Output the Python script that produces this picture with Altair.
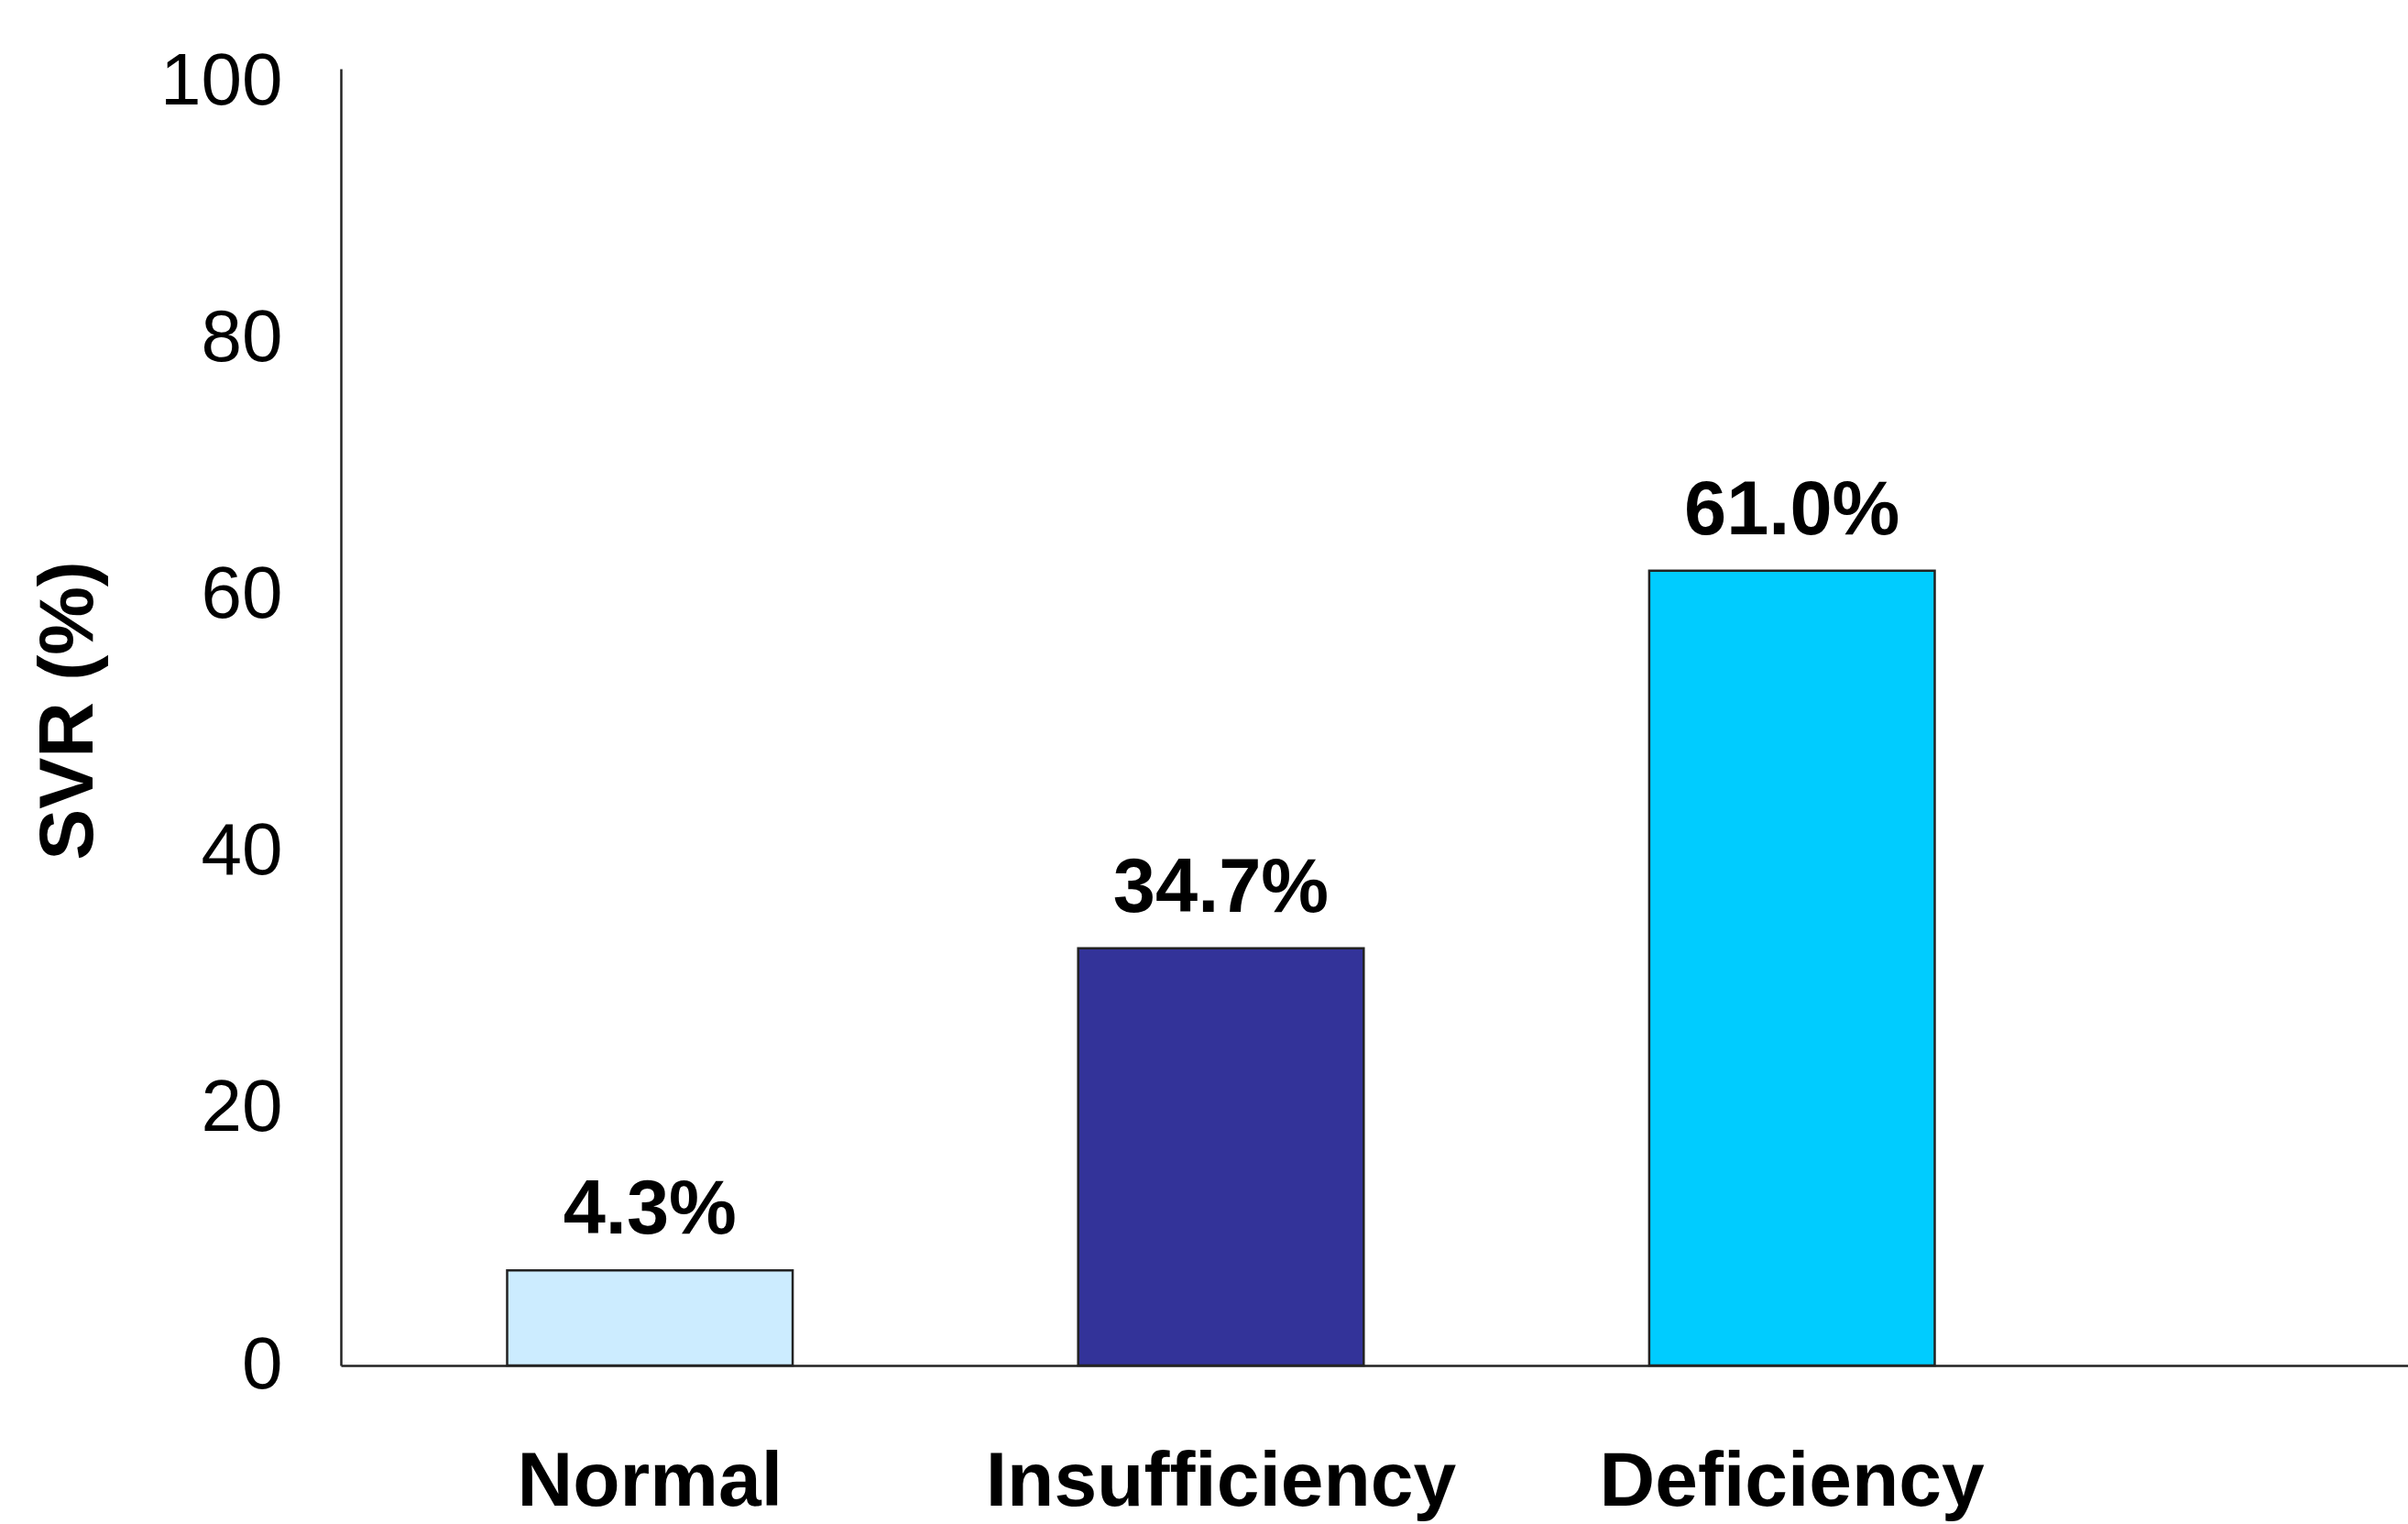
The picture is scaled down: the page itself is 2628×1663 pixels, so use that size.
import altair as alt
import pandas as pd

categories = ["Normal", "Insufficiency", "Deficiency"]
bar_values = [7.4, 32.5, 61.9]
label_texts = ["4.3%", "34.7%", "61.0%"]
bar_colors = ["#CCECFF", "#333399", "#00CCFF"]
y_ticks = [0, 20, 40, 60, 80, 100]

df = pd.DataFrame({"cat": categories, "val": bar_values, "lbl": label_texts})

FONT = "Liberation Sans"

x_enc = alt.X(
    "cat:N",
    sort=categories,
    scale=alt.Scale(paddingInner=0.5, paddingOuter=0.56, align=0.26),
    axis=alt.Axis(
        title=None, labelAngle=0, ticks=False, labelFont=FONT, labelFontSize=84,
        labelFontWeight="bold", labelColor="black", labelPadding=86, labelLimit=0,
        domainColor="#222222", domainWidth=2.5,
    ),
)
y_enc = alt.Y(
    "val:Q",
    scale=alt.Scale(domain=[0, 101], nice=False),
    axis=alt.Axis(
        title="SVR (%)", values=y_ticks, grid=False, ticks=False,
        labelFont=FONT, labelFontSize=80, labelColor="black", labelPadding=64,
        labelBaseline="middle",
        domainColor="#222222", domainWidth=2.5,
        titleFont=FONT, titleFontSize=84, titleFontWeight="bold", titleColor="black",
        titleAngle=270, titleX=-297, titleY=700, titleAlign="center", titleBaseline="middle",
    ),
)

bars = alt.Chart(df).mark_bar(stroke="#222222", strokeWidth=2.5).encode(
    x=x_enc,
    y=y_enc,
    color=alt.Color("cat:N", scale=alt.Scale(domain=categories, range=bar_colors), legend=None),
)

labels = alt.Chart(df).mark_text(
    font=FONT, fontSize=83, fontWeight="bold", color="black",
    baseline="alphabetic", align="center", dy=-40,
).encode(
    x=alt.X("cat:N", sort=categories),
    y=alt.Y("val:Q"),
    text="lbl:N",
)

chart = alt.layer(bars, labels).properties(
    width=2256, height=1415,
    autosize=alt.AutoSizeParams(type="none"),
    padding={"left": 372, "top": 75, "right": 0, "bottom": 173},
    background="white",
).configure_view(stroke=None)

chart.save("out.html", embed_options={"renderer": "svg", "actions": False})
